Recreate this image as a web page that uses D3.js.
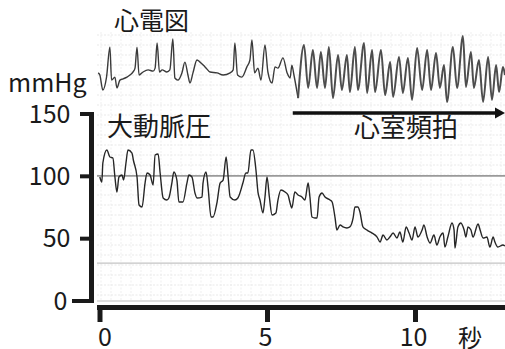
<!DOCTYPE html>
<html><head><meta charset="utf-8">
<script src="https://cdn.jsdelivr.net/npm/d3@7"></script>
<style>
body{margin:0;background:#fff}
svg{display:block}
text{font-family:"Noto Sans CJK JP","Noto Sans",sans-serif;fill:#1a1a1a}
</style>
</head><body>
<svg id="c" width="505" height="349"></svg>
<script>
// ---- data ----
const xTicks = [0, 5, 10];
const yTicks = [0, 50, 100, 150];
const refLines = [100, 30];            // mmHg reference lines on recorder paper
const titles = {ecg: "心電図", bp: "大動脈圧", vt: "心室頻拍", yUnit: "mmHg", xUnit: "秒"};
const vtStart = 5.87;                  // seconds – onset of ventricular tachycardia

// ECG (time s, amplitude mV)
const ecgT = [-0.04,0.01,0.10,0.21,0.31,0.36,0.46,0.52,0.61,0.70,0.82,0.91,1.00,1.06,1.12,1.18,1.30,1.45,1.60,1.66,1.72,1.79,1.87,2.01,2.10,2.19,2.25,2.34,2.46,2.55,2.64,2.70,2.79,2.91,3.00,3.15,3.30,3.51,3.69,3.90,3.99,4.04,4.12,4.25,4.40,4.49,4.55,4.63,4.73,4.82,4.94,5.03,5.17,5.27,5.37,5.54,5.68,5.78,5.84,5.91,6.05,
  6.25,6.39,6.55,6.69,6.82,6.96,7.09,7.23,7.40,7.53,7.70,7.80,7.97,8.07,8.28,8.38,8.55,8.65,8.85,8.99,9.16,9.26,9.46,9.59,9.76,9.90,10.07,10.24,10.41,10.54,10.71,10.84,10.98,11.08,11.28,11.42,11.62,11.72,11.89,11.99,12.16,12.30,12.47,12.60,12.74,12.84,12.97,13.04];
const ecgV = [-0.03,-0.10,-0.60,-0.17,0.83,-0.27,-0.17,-0.53,-0.27,-0.23,-0.17,-0.10,0,0.13,0.83,-0.10,0,0.07,0.03,0.13,0.97,0,0.07,0,0.07,1.10,-0.20,-0.27,-0.03,0.33,-0.10,-0.37,-0.03,0.40,0.33,0.17,0,-0.03,-0.10,-0.03,0.07,0.97,-0.10,-0.17,0.17,0.40,1.07,-0.03,0.13,-0.27,0.90,0,-0.37,0.17,0.13,0.47,-0.03,-0.20,0.23,-0.10,-0.87,
  0.90,-0.53,0.73,-0.53,0.67,-0.53,0.83,-0.87,0.57,-0.60,0.57,-0.67,0.83,-0.60,0.97,-0.70,0.73,-0.67,0.73,-0.77,0.33,-0.83,0.50,-0.70,0.47,-0.93,0.80,-0.60,0.73,-0.60,0.63,-0.53,0.23,-1.00,0.83,-0.53,1.20,-0.50,0.67,-0.53,0.40,-1.00,0.50,-0.93,0.23,-0.67,0.17,-0.10];

// Aortic pressure (time s, mmHg)
const bpT = [0.01,0.07,0.10,0.22,0.31,0.40,0.46,0.52,0.58,0.67,0.72,0.79,0.85,0.97,1.01,1.12,1.18,1.27,1.36,1.42,1.51,1.60,1.66,1.75,1.81,1.90,2.01,2.07,2.16,2.22,2.31,2.37,2.49,2.61,2.67,2.76,2.85,2.91,3.06,3.09,3.18,3.24,3.33,3.39,3.51,3.60,3.69,3.78,3.84,3.90,4.04,4.13,4.28,4.37,4.43,4.52,4.58,4.67,4.73,4.79,4.88,4.94,5.00,5.08,5.17,5.30,5.37,5.47,5.61,5.71,5.78,5.84,5.94,6.05,6.18,6.28,6.39,6.45,6.52,6.62,6.69,6.76,6.86,6.96,7.13,7.20,7.30,7.36,7.47,7.57,7.70,7.80,7.91,7.97,8.07,8.14,8.24,8.38,8.55,8.72,8.82,8.92,9.05,9.15,9.26,9.39,9.49,9.59,9.70,9.80,9.90,10.00,10.10,10.24,10.30,10.41,10.51,10.64,10.74,10.84,10.95,11.01,11.11,11.25,11.32,11.35,11.45,11.55,11.66,11.72,11.79,11.89,11.96,12.13,12.20,12.30,12.43,12.53,12.64,12.70,12.80,12.97,13.04];
const bpV = [99.1,95.0,110.3,120.7,115.1,114.3,99.1,87.0,99.1,100.7,96.6,110.3,120.7,118.3,112.7,99.1,76.6,75.0,94.2,102.3,100.7,92.6,116.7,117.5,102.3,82.2,80.6,82.2,94.2,103.1,96.6,79.0,79.0,94.2,100.7,99.1,86.2,82.2,83.0,94.2,103.1,91.0,67.0,67.0,79.0,94.2,96.6,115.1,99.1,83.0,80.6,82.2,94.2,102.3,102.3,120.7,120.7,104.7,87.0,80.6,70.2,83.0,99.1,83.0,68.6,70.2,80.6,88.6,87.0,84.6,78.2,74.2,87.0,84.6,83.0,80.6,94.2,83.0,67.0,66.2,66.2,83.0,86.2,83.0,80.6,79.0,66.2,56.5,60.6,59.0,58.2,59.0,66.2,75.0,75.0,71.0,59.0,56.5,54.1,50.9,46.9,52.5,48.5,50.9,54.1,50.1,54.9,46.9,59.0,54.1,48.5,59.0,50.9,56.5,60.6,50.9,46.1,52.5,44.5,50.9,54.1,42.9,50.9,62.2,56.5,42.1,59.0,62.2,56.5,50.9,59.0,56.5,50.9,61.4,56.5,50.1,50.9,42.9,50.9,46.9,42.9,44.5,43.7];

// ---- drawing ----
const svg = d3.select("#c");
const x = d3.scaleLinear().domain([0, 5, 10]).range([99.5, 267, 415]);
const y = d3.scaleLinear().domain([0, 150]).range([300.5, 113.5]);
const ye = d3.scaleLinear().domain([-1, 1]).range([102, 42]);
const paper = {x0: 97, x1: 505, y0: 32, y1: 301};

// recorder paper grid
const g = svg.append("g");
g.selectAll("line.h").data(d3.range(paper.y0 + 3, paper.y1, 10)).join("line")
  .attr("x1", paper.x0).attr("x2", paper.x1).attr("y1", d => d).attr("y2", d => d)
  .attr("stroke", "#e0e0e0").attr("stroke-width", 0.7).attr("stroke-dasharray", "2,1.5");
g.selectAll("line.v").data(d3.range(paper.x0 + 4, paper.x1, 10)).join("line")
  .attr("y1", paper.y0).attr("y2", paper.y1).attr("x1", d => d).attr("x2", d => d)
  .attr("stroke", "#e8e8e8").attr("stroke-width", 0.7).attr("stroke-dasharray", "2,1.5");
g.append("line").attr("x1", paper.x0).attr("x2", paper.x1).attr("y1", paper.y1).attr("y2", paper.y1)
  .attr("stroke", "#bdbdbd").attr("stroke-width", 1);
g.selectAll("line.ref").data(refLines).join("line")
  .attr("x1", paper.x0).attr("x2", paper.x1).attr("y1", d => y(d)).attr("y2", d => y(d))
  .attr("stroke", (d, i) => i === 0 ? "#9a9a9a" : "#c4c4c4").attr("stroke-width", (d, i) => i === 0 ? 1.6 : 1.1);

svg.append("clipPath").attr("id", "clp").append("rect")
  .attr("x", paper.x0).attr("y", 0).attr("width", paper.x1 - paper.x0).attr("height", paper.y1);

// traces
const ecgData = ecgT.map((t, i) => [t, ecgV[i]]);
const bpData = bpT.map((t, i) => [t, bpV[i]]);
const ecgLine = d3.line().x(d => x(d[0])).y(d => ye(d[1])).curve(d3.curveMonotoneX);
const bpLine = d3.line().x(d => x(d[0])).y(d => y(d[1])).curve(d3.curveMonotoneX);
const tr = svg.append("g").attr("clip-path", "url(#clp)");
tr.append("path").attr("d", ecgLine(ecgData.filter(d => d[0] <= 6.05)))
  .attr("fill", "none").attr("stroke", "#3a3a3a").attr("stroke-width", 1.4).attr("stroke-linejoin", "round");
tr.append("path").attr("d", ecgLine(ecgData.filter(d => d[0] >= 6.05)))
  .attr("fill", "none").attr("stroke", "#4d4d4d").attr("stroke-width", 2).attr("stroke-linejoin", "round");
tr.append("path").attr("d", bpLine(bpData))
  .attr("fill", "none").attr("stroke", "#262626").attr("stroke-width", 1.4).attr("stroke-linejoin", "round");

// axes
const yAxis = svg.append("g").attr("transform", "translate(91.5,0)")
  .call(d3.axisLeft(y).tickValues(yTicks).tickSize(11.5).tickSizeOuter(0).tickPadding(10));
yAxis.select(".domain").attr("d", `M0,${y(150) - 1.5}V${y(0) + 2.5}`).attr("stroke", "#1a1a1a").attr("stroke-width", 5);
yAxis.selectAll(".tick line").attr("stroke", "#1a1a1a").attr("stroke-width", 4)
  .attr("x1", 2.5).attr("x2", d => d === 0 ? -19.5 : -11.5);
yAxis.selectAll(".tick text").attr("font-size", 25).attr("x", d => d === 0 ? -24 : -21)
  .attr("dy", "0.34em").style("font-family", '"Noto Sans CJK JP",sans-serif').attr("fill", "#1a1a1a");

const xAxis = svg.append("g").attr("transform", "translate(0,307.5)")
  .call(d3.axisBottom(x).tickValues(xTicks).tickSize(14.5).tickSizeOuter(0).tickPadding(6));
xAxis.select(".domain").attr("d", `M97,0H505`).attr("stroke", "#1a1a1a").attr("stroke-width", 5);
xAxis.selectAll(".tick line").attr("stroke", "#1a1a1a").attr("stroke-width", 5).attr("y1", -2.5);
xAxis.selectAll(".tick text").attr("font-size", 25).attr("dy", "0.7em")
  .attr("dx", d => d === 0 ? 5 : -2)
  .style("font-family", '"Noto Sans CJK JP",sans-serif').attr("fill", "#1a1a1a");

// labels
svg.append("text").attr("x", 8).attr("y", 92).attr("font-size", 25).text(titles.yUnit);
svg.append("text").attr("x", 470).attr("y", 347).attr("font-size", 24).attr("text-anchor", "middle").text(titles.xUnit);
svg.append("text").attr("x", 114).attr("y", 30).attr("font-size", 25).text(titles.ecg);
svg.append("text").attr("x", 107).attr("y", 136).attr("font-size", 26).text(titles.bp);
svg.append("text").attr("x", 354).attr("y", 137).attr("font-size", 26).text(titles.vt);

// VT arrow
svg.append("line").attr("x1", x(vtStart)).attr("x2", 498).attr("y1", 113).attr("y2", 113)
  .attr("stroke", "#111").attr("stroke-width", 3.5);
svg.append("path").attr("d", "M505,113L495,107.5L495,118.5Z").attr("fill", "#111");
</script>
</body></html>
